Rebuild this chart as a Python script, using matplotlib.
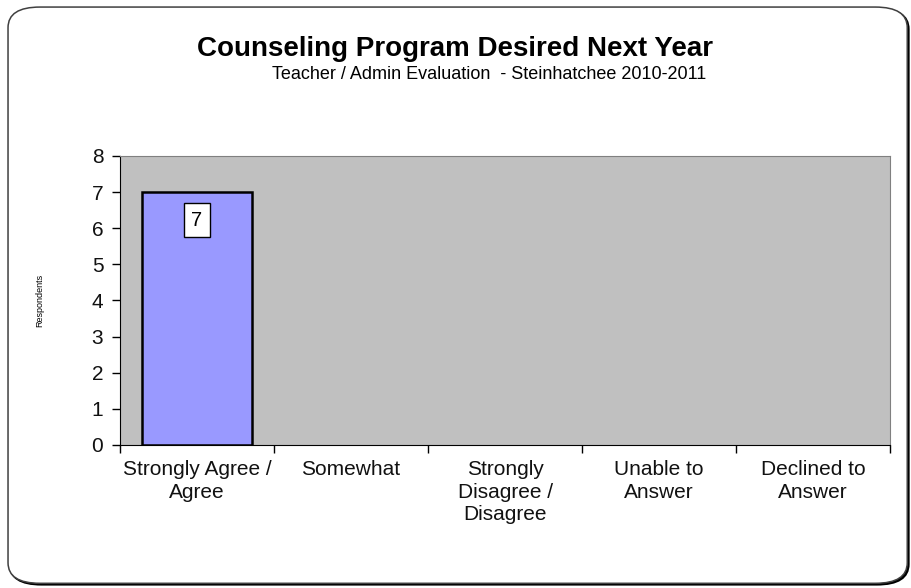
import numpy as np
import matplotlib.pyplot as plt
from matplotlib.patches import FancyBboxPatch

# --- datos del gráfico ---
categorias = ["Strongly Agree /\nAgree", "Somewhat", "Strongly\nDisagree /\nDisagree",
              "Unable to\nAnswer", "Declined to\nAnswer"]
valores = [7, 0, 0, 0, 0]
y_ticks = [0, 1, 2, 3, 4, 5, 6, 7, 8]

titulo = "Counseling Program Desired Next Year"
subtitulo = "Teacher / Admin Evaluation  - Steinhatchee 2010-2011"

plt.rcParams['font.family'] = ['Liberation Sans', 'DejaVu Sans']

fig = plt.figure(figsize=(9.12, 5.88), dpi=100)

# marco redondeado con una pequeña sombra abajo a la derecha
sombra = FancyBboxPatch((0.0105, 0.0055), 0.986, 0.980, boxstyle="round,pad=0,rounding_size=0.035",
                        transform=fig.transFigure, facecolor='black', edgecolor='black', lw=1.2, zorder=0)
marco = FancyBboxPatch((0.0088, 0.008), 0.986, 0.980, boxstyle="round,pad=0,rounding_size=0.035",
                       transform=fig.transFigure, facecolor='white', edgecolor='#404040', lw=1.1, zorder=1)
fig.patches.extend([sombra, marco])

ax = fig.add_axes([0.1316, 0.2432, 0.8443, 0.4915])
ax.set_zorder(2)
ax.set_facecolor('#C0C0C0')

x = np.arange(len(categorias))
bordes = [1.8 if v > 0 else 0 for v in valores]
ax.bar(x, valores, width=0.72, color='#9999FF', edgecolor='black', linewidth=bordes)

for xi, v in zip(x, valores):
    if v > 0:
        ax.text(xi, v - 0.78, str(v), ha='center', va='center', fontsize=14.5,
                bbox=dict(boxstyle='square,pad=0.38', facecolor='white', edgecolor='black', lw=1))

ax.set_xlim(-0.5, len(categorias) - 0.5)
ax.set_ylim(0, 8)
ax.set_yticks(y_ticks)
ax.tick_params(axis='y', labelsize=15, length=6, width=1, direction='out', pad=6, labelcolor='#111111')

# ticks del eje x en los límites de cada categoría
ax.set_xticks(x)
ax.set_xticklabels(categorias, fontsize=15, linespacing=1.22, color='#111111')
ax.tick_params(axis='x', which='major', length=0, pad=11)
ax.set_xticks(np.arange(len(categorias) + 1) - 0.5, minor=True)
ax.tick_params(axis='x', which='minor', length=6, width=1, direction='out')

for lado in ['top', 'right']:
    ax.spines[lado].set_color('#808080')
for lado in ['left', 'bottom']:
    ax.spines[lado].set_color('black')

ax.set_ylabel("Respondents", fontsize=6.5, labelpad=34)

fig.text(0.499, 0.917, titulo, ha='center', va='center', fontsize=20, fontweight='bold', zorder=3)
fig.text(0.536, 0.873, subtitulo, ha='center', va='center', fontsize=13, zorder=3)

fig.savefig('out.png', dpi=100)
